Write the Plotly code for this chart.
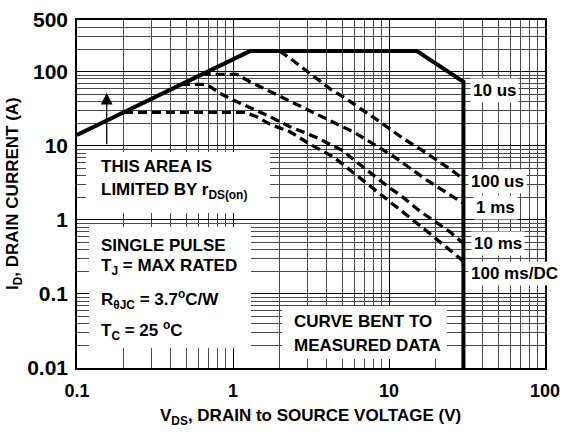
import plotly.graph_objects as go
import math

# ---------------- data ----------------
x_tick_vals = [0.1, 1, 10, 100]
x_tick_text = ["0.1", "1", "10", "100"]
y_tick_vals = [0.01, 0.1, 1, 10, 100, 500]
y_tick_text = ["0.01", "0.1", "1", "10", "100", "500"]

# 10 us / envelope (solid)
env_v = [0.1, 1.285, 15.1, 30, 30]
env_i = [14.0, 190, 190, 73, 0.01]

# 100 us
t100us_v = [2.0, 2.32, 4.3, 5.07, 8.75, 12.3, 17.5, 25.2, 30]
t100us_i = [190, 152, 56.6, 46, 21.1, 12.6, 7.9, 4.7, 3.55]

# 1 ms
t1ms_v = [0.63, 1.06, 1.285, 1.9, 3.36, 6.05, 10.4, 17.5, 30]
t1ms_i = [92, 92, 73.3, 49.5, 27.4, 15.0, 7.5, 3.44, 1.67]

# 10 ms
t10ms_v = [0.464, 0.68, 0.826, 1.06, 1.73, 2.32, 3.36, 4.98, 7.0, 9.9, 11.8, 15.8, 24.6, 30]
t10ms_i = [67.6, 67.6, 51, 39.4, 24.7, 18.1, 13.2, 8.75, 4.95, 2.79, 2.16, 1.31, 0.69, 0.48]

# 100 ms / DC
t100ms_v = [0.2, 1.19, 1.42, 1.73, 2.32, 3.19, 4.4, 6.2, 8.75, 12.4, 16.6, 24.6, 30]
t100ms_i = [28.3, 28.3, 24.7, 19.5, 15.5, 10.2, 7.1, 4.0, 2.27, 1.28, 0.77, 0.39, 0.277]

# arrow (rDS(on) limited area marker)
arrow_v = 0.155
arrow_i_from = 10
arrow_i_to = 52

x_minor = [m * 10 ** e for e in (-1, 0, 1) for m in range(2, 10)]
y_minor = [m * 10 ** e for e in (-2, -1, 0, 1) for m in range(2, 10)] + [200, 300, 400]

# ---------------- layout helpers ----------------
L, R, T, B = 77, 545, 20, 368
W, H = 571, 435


def pxx(p):
    return (p - L) / (R - L)


def pxy(p):
    return (B - p) / (B - T)


FONT = "Liberation Sans, Arial, Helvetica, sans-serif"
DASH = "9px,5px"

fig = go.Figure()
fig.add_trace(go.Scatter(x=env_v, y=env_i, mode="lines",
                         line=dict(color="black", width=4), hoverinfo="skip"))
for xv, yv in [(t100us_v, t100us_i), (t1ms_v, t1ms_i), (t10ms_v, t10ms_i), (t100ms_v, t100ms_i)]:
    fig.add_trace(go.Scatter(x=xv, y=yv, mode="lines",
                             line=dict(color="black", width=3.3, dash=DASH), hoverinfo="skip"))

axis_common = dict(
    type="log", showgrid=True, gridcolor="#000000", gridwidth=1,
    showline=True, linecolor="#000000", linewidth=1.5, mirror=True,
    ticks="", zeroline=False, automargin=False, tickmode="array",
)

fig.update_xaxes(range=[-1, 2], tickvals=x_tick_vals, ticktext=x_tick_text,
                 tickfont=dict(size=18, family=FONT, color="black", weight="bold"),
                 minor=dict(tickmode="array", tickvals=x_minor, showgrid=True,
                            gridcolor="#4a4a4a", gridwidth=1, ticks=""),
                 ticklabelstandoff=6,
                 **axis_common)
fig.update_yaxes(range=[-2, math.log10(500)], tickvals=y_tick_vals, ticktext=y_tick_text,
                 tickfont=dict(size=21, family=FONT, color="black", weight="bold"),
                 minor=dict(tickmode="array", tickvals=y_minor, showgrid=True,
                            gridcolor="#4a4a4a", gridwidth=1, ticks=""),
                 ticklabelstandoff=3,
                 **axis_common)

shapes = []
for (x0, y0, x1, y1) in [(86, 152, 270, 213), (89, 227, 251, 348), (282, 306, 447, 359)]:
    shapes.append(dict(type="rect", xref="paper", yref="paper",
                       x0=pxx(x0), x1=pxx(x1), y0=pxy(y1), y1=pxy(y0),
                       fillcolor="white", line=dict(width=0), layer="above"))

annotations = []


def txt(text, x, y, size=17, xanchor="left", bg=None, **kw):
    a = dict(text=text, x=pxx(x), y=pxy(y), xref="paper", yref="paper",
             xanchor=xanchor, yanchor="middle", showarrow=False,
             font=dict(size=size, family=FONT, color="black", weight="bold"), **kw)
    if bg:
        a.update(bgcolor=bg, borderpad=2)
    annotations.append(a)


# box texts
txt("THIS AREA IS", 99, 166)
txt("LIMITED BY r<sub>DS(on)</sub>", 99, 191)
txt("SINGLE PULSE", 99, 246)
txt("T<sub>J</sub> = MAX RATED", 99, 267)
txt("R<sub>θJC</sub> = 3.7<sup>o</sup>C/W", 99, 299)
txt("T<sub>C</sub> = 25 <sup>o</sup>C", 99, 330)
txt("CURVE BENT TO", 292, 321)
txt("MEASURED DATA", 292, 345)

# right-side labels
txt("10 us", 470, 90, bg="white")
txt("100 us", 468, 181.5, bg="white")
txt("1 ms", 473, 207, bg="white")
txt("10 ms", 471, 243, bg="white")
txt("100 ms/DC", 468, 273, bg="white")

# axis titles
annotations.append(dict(text="V<sub>DS</sub>, DRAIN to SOURCE VOLTAGE (V)",
                        x=pxx(310), y=pxy(417), xref="paper", yref="paper",
                        xanchor="center", yanchor="middle", showarrow=False,
                        font=dict(size=17, family=FONT, color="black", weight="bold")))
annotations.append(dict(text="I<sub>D</sub>, DRAIN CURRENT (A)",
                        x=pxx(14), y=pxy(194), xref="paper", yref="paper",
                        xanchor="center", yanchor="middle", showarrow=False, textangle=-90,
                        font=dict(size=17, family=FONT, color="black", weight="bold")))

# arrow
annotations.append(dict(x=math.log10(arrow_v), y=math.log10(arrow_i_to),
                        ax=math.log10(arrow_v), ay=math.log10(arrow_i_from),
                        xref="x", yref="y", axref="x", ayref="y", text="",
                        showarrow=True, arrowhead=2, arrowsize=1.8, arrowwidth=1.3,
                        arrowcolor="black", standoff=0, startstandoff=0))

fig.update_layout(
    width=W, height=H,
    margin=dict(l=L, r=W - R, t=T, b=H - B, pad=0),
    paper_bgcolor="white", plot_bgcolor="white",
    showlegend=False,
    font=dict(family=FONT, size=17, color="black"),
    shapes=shapes, annotations=annotations,
)

fig.write_html("out.html", config={"displayModeBar": False},
               post_script="document.body.style.margin='0';document.body.style.padding='0';")
